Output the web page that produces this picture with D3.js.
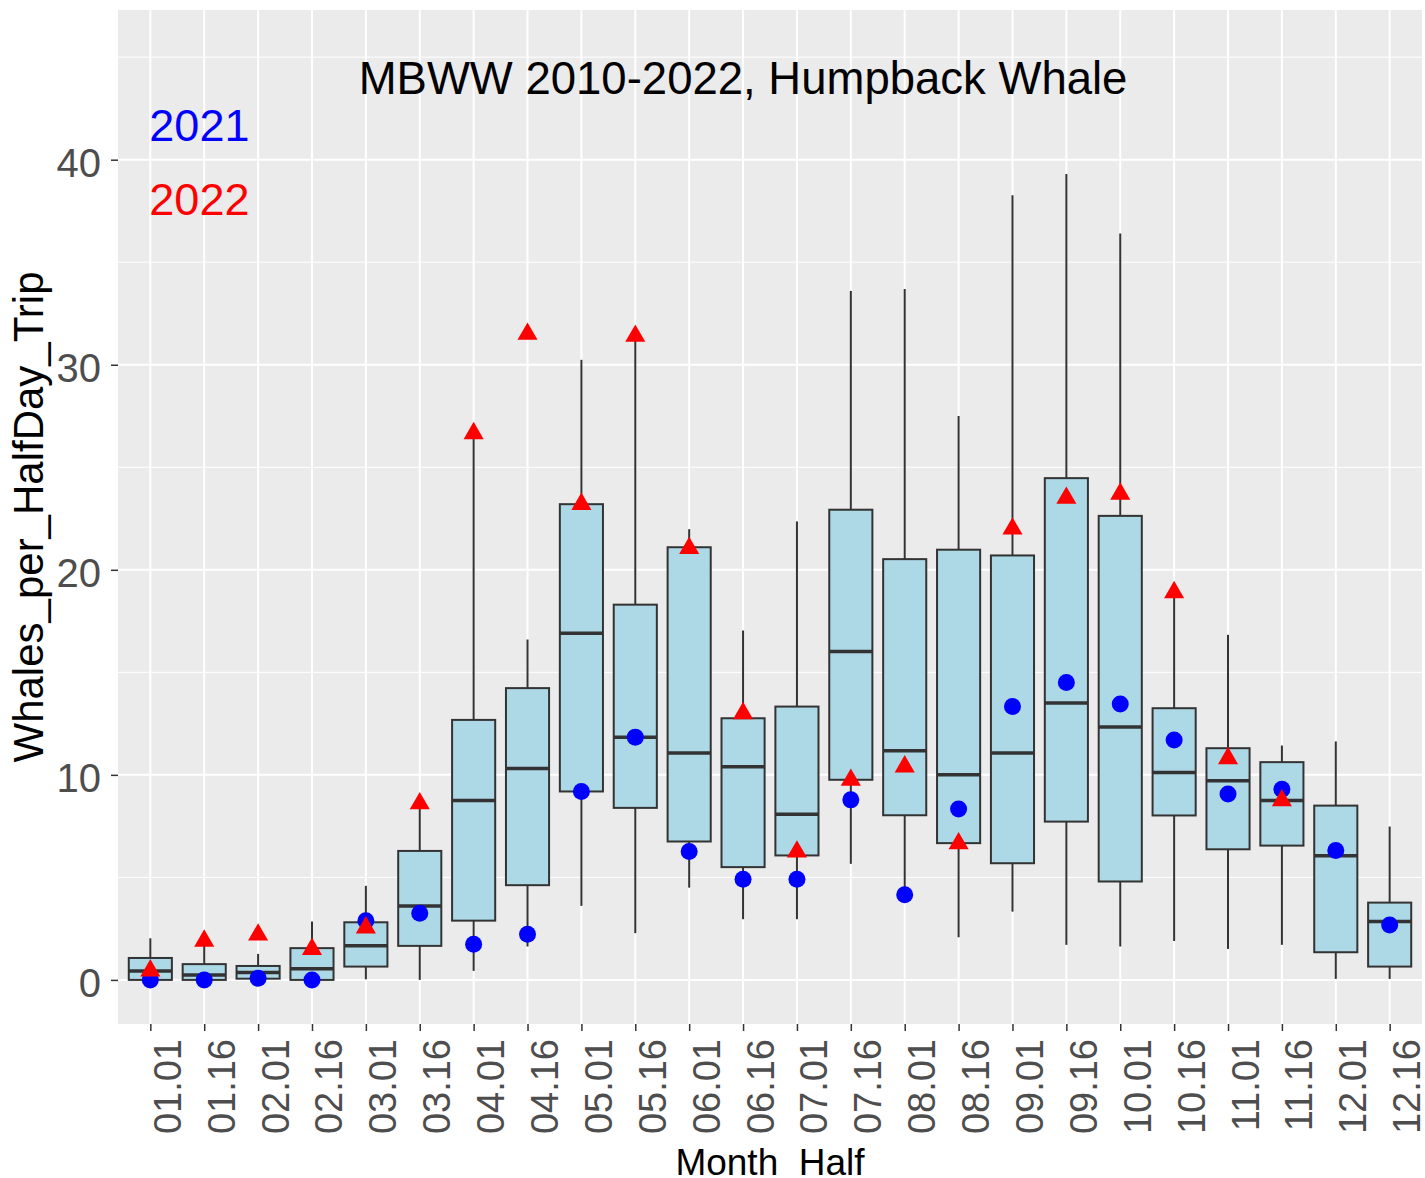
<!DOCTYPE html>
<html>
<head>
<meta charset="utf-8">
<script src="https://cdn.jsdelivr.net/npm/d3@7"></script>
<style>
  body { margin: 0; background: #fff; }
  svg { display: block; font-family: "Liberation Sans", Arial, sans-serif; }
</style>
</head>
<body>
<svg id="chart"></svg>
<script>
// Month halves on the x axis
const months = ["01.01","01.16","02.01","02.16","03.01","03.16","04.01","04.16",
  "05.01","05.16","06.01","06.16","07.01","07.16","08.01","08.16",
  "09.01","09.16","10.01","10.16","11.01","11.16","12.01","12.16"];

// Box statistics, 2010-2022 (whales per half-day trip)
const whiskerLow  = [0, 0, 0, 0, 0.03, 0, 0.44, 1.63, 3.61, 2.28, 4.5, 2.96, 2.96, 5.66, 4.15, 2.08, 3.33, 1.71, 1.63, 1.9, 1.51, 1.71, 0.05, 0.05];
const q1          = [0, 0, 0.06, 0, 0.65, 1.66, 2.89, 4.62, 9.19, 8.39, 6.75, 5.5, 6.07, 9.76, 8.03, 6.67, 5.69, 7.72, 4.8, 8.02, 6.37, 6.55, 1.35, 0.65];
const medians     = [0.44, 0.24, 0.36, 0.55, 1.67, 3.61, 8.75, 10.31, 16.9, 11.84, 11.06, 10.4, 8.08, 16.02, 11.17, 10.0, 11.06, 13.5, 12.33, 10.11, 9.71, 8.75, 6.05, 2.85];
const q3          = [1.07, 0.77, 0.68, 1.55, 2.81, 6.29, 12.68, 14.23, 23.2, 18.3, 21.1, 12.76, 13.33, 22.93, 20.52, 20.98, 20.7, 24.47, 22.63, 13.25, 11.3, 10.62, 8.5, 3.77];
const whiskerHigh = [2.03, 1.9, 1.27, 2.85, 4.59, 8.5, 26.6, 16.6, 30.24, 31.4, 21.98, 17.04, 22.36, 33.6, 33.7, 27.5, 38.26, 39.3, 36.4, 18.8, 16.83, 11.43, 11.63, 7.48];

// Single-year values
const values2021 = [0, 0, 0.08, 0, 2.88, 3.25, 1.74, 2.23, 9.19, 11.84, 6.26, 4.91, 4.91, 8.78, 4.15, 8.33, 13.33, 14.5, 13.45, 11.7, 9.07, 9.3, 6.31, 2.68];
const values2022 = [0.45, 1.9, 2.2, 1.5, 2.55, 8.6, 26.65, 31.5, 23.2, 31.4, 21.05, 13.0, 6.25, 9.75, 10.4, 6.65, 22.0, 23.5, 23.7, 18.9, 10.8, 8.75, null, null];

const yMajor = [0, 10, 20, 30, 40];
const yMinor = [5, 15, 25, 35, 45];

const width = 1425, height = 1178;
const panel = { left: 118, right: 1422, top: 10, bottom: 1024 };

const svg = d3.select("#chart").attr("width", width).attr("height", height);
svg.append("rect").attr("width", width).attr("height", height).attr("fill", "#fff");

const x = d3.scalePoint().domain(months).range([panel.left, panel.right]).padding(0.6);
const y = d3.scaleLinear().domain([-2.15, 47.3]).range([panel.bottom, panel.top]);
const boxW = x.step() * 0.8;

// panel background + grid
svg.append("rect")
  .attr("x", panel.left).attr("y", panel.top)
  .attr("width", panel.right - panel.left).attr("height", panel.bottom - panel.top)
  .attr("fill", "#EBEBEB");

svg.append("g").selectAll("line").data(yMinor).enter().append("line")
  .attr("x1", panel.left).attr("x2", panel.right)
  .attr("y1", d => y(d)).attr("y2", d => y(d))
  .attr("stroke", "#fff").attr("stroke-width", 1);

svg.append("g").selectAll("line").data(yMajor).enter().append("line")
  .attr("x1", panel.left).attr("x2", panel.right)
  .attr("y1", d => y(d)).attr("y2", d => y(d))
  .attr("stroke", "#fff").attr("stroke-width", 2);

svg.append("g").selectAll("line").data(months).enter().append("line")
  .attr("x1", d => x(d)).attr("x2", d => x(d))
  .attr("y1", panel.top).attr("y2", panel.bottom)
  .attr("stroke", "#fff").attr("stroke-width", 2);

// boxes
const rows = months.map((m, i) => ({
  m, lo: whiskerLow[i], q1: q1[i], med: medians[i], q3: q3[i], hi: whiskerHigh[i]
}));

const boxes = svg.append("g").selectAll("g").data(rows).enter().append("g");

boxes.append("line")
  .attr("x1", d => x(d.m)).attr("x2", d => x(d.m))
  .attr("y1", d => y(d.q3)).attr("y2", d => y(d.hi))
  .attr("stroke", "#333").attr("stroke-width", 2);
boxes.append("line")
  .attr("x1", d => x(d.m)).attr("x2", d => x(d.m))
  .attr("y1", d => y(d.q1)).attr("y2", d => y(d.lo))
  .attr("stroke", "#333").attr("stroke-width", 2);
boxes.append("rect")
  .attr("x", d => x(d.m) - boxW / 2).attr("width", boxW)
  .attr("y", d => y(d.q3)).attr("height", d => y(d.q1) - y(d.q3))
  .attr("fill", "#ADD8E6").attr("stroke", "#333").attr("stroke-width", 2);
boxes.append("line")
  .attr("x1", d => x(d.m) - boxW / 2).attr("x2", d => x(d.m) + boxW / 2)
  .attr("y1", d => y(d.med)).attr("y2", d => y(d.med))
  .attr("stroke", "#333").attr("stroke-width", 3.5);

// 2021 points
svg.append("g").selectAll("circle")
  .data(months.map((m, i) => ({ m, v: values2021[i] })).filter(d => d.v != null))
  .enter().append("circle")
  .attr("cx", d => x(d.m)).attr("cy", d => y(d.v)).attr("r", 8.5)
  .attr("fill", "blue");

// 2022 points
const tri = d3.symbol().type(d3.symbolTriangle).size(175);
svg.append("g").selectAll("path")
  .data(months.map((m, i) => ({ m, v: values2022[i] })).filter(d => d.v != null))
  .enter().append("path")
  .attr("d", tri)
  .attr("transform", d => `translate(${x(d.m)},${y(d.v)})`)
  .attr("fill", "red");

// annotations
const notes = [
  { text: "MBWW 2010-2022, Humpback Whale", at: "06.16", v: 44.0, anchor: "middle", color: "#000" },
  { text: "2021", at: "01.01", v: 41.7, anchor: "start", color: "blue" },
  { text: "2022", at: "01.01", v: 38.1, anchor: "start", color: "red" }
];
svg.append("g").selectAll("text").data(notes).enter().append("text")
  .attr("x", d => x(d.at) - (d.anchor === "start" ? 1 : 0))
  .attr("y", d => y(d.v))
  .attr("dy", "0.358em")
  .attr("text-anchor", d => d.anchor)
  .attr("fill", d => d.color)
  .style("font-size", d => d.anchor === "middle" ? "45.5px" : "45px")
  .text(d => d.text);

// y axis
const yAxis = svg.append("g")
  .attr("transform", `translate(${panel.left},0)`)
  .call(d3.axisLeft(y).tickValues(yMajor).tickSize(7).tickPadding(10));
yAxis.select(".domain").remove();
yAxis.selectAll(".tick line").attr("stroke", "#333").attr("stroke-width", 1.5);
yAxis.selectAll(".tick text")
  .attr("fill", "#4D4D4D").attr("dy", "0.42em")
  .style("font-size", "40px").style("font-family", "Liberation Sans, Arial, sans-serif");

// x axis
const xAxis = svg.append("g")
  .attr("transform", `translate(0,${panel.bottom})`)
  .call(d3.axisBottom(x).tickSize(7).tickPadding(0));
xAxis.select(".domain").remove();
xAxis.selectAll(".tick line").attr("stroke", "#333").attr("stroke-width", 1.5);
xAxis.selectAll(".tick text")
  .attr("transform", "rotate(-90)")
  .attr("x", -15).attr("y", 0).attr("dy", 30)
  .attr("text-anchor", "end")
  .attr("fill", "#4D4D4D")
  .style("font-size", "38px").style("font-family", "Liberation Sans, Arial, sans-serif");

// axis titles
svg.append("text")
  .attr("x", (panel.left + panel.right) / 2).attr("y", 1175)
  .attr("text-anchor", "middle")
  .style("font-size", "37px")
  .text("Month_Half");

svg.append("text")
  .attr("transform", `translate(43,${(panel.top + panel.bottom) / 2}) rotate(-90)`)
  .attr("text-anchor", "middle")
  .style("font-size", "42px")
  .text("Whales_per_HalfDay_Trip");
</script>
</body>
</html>
